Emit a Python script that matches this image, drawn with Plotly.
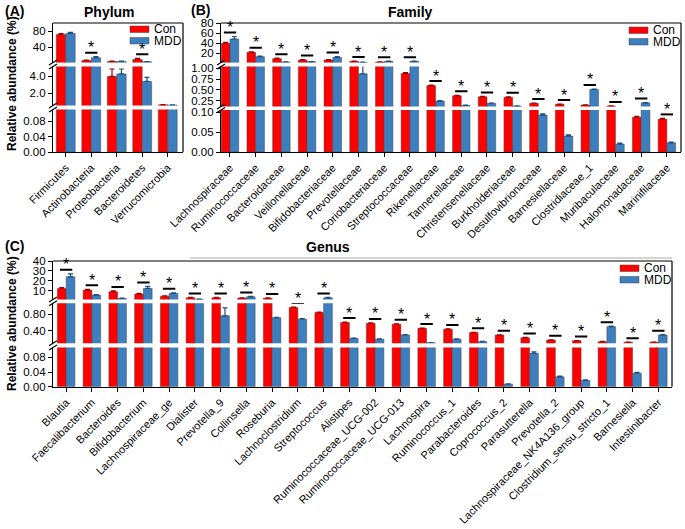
import plotly.graph_objects as go

W, H = 685, 529
RED = "#FF0000"
BLUE = "#3D7EBF"
ECON = "#A00000"
EMDD = "#1F4F80"
FONT = "Liberation Sans, Arial, sans-serif"

# ---------------- data ----------------
phylum_names = ["Firmicutes", "Actinobacteria", "Proteobacteria", "Bacteroidetes", "Verrucomicrobia"]
phylum_con = [71.5, 6.5, 4.0, 9.0, 0.58]
phylum_mdd = [74.0, 13.5, 4.3, 3.4, 0.56]
phylum_con_err = [2.0, 1.0, 0.9, 3.0, 0.02]
phylum_mdd_err = [2.5, 2.5, 0.6, 0.5, 0.02]
phylum_sig = [False, True, False, True, False]

family_names = ["Lachnospiraceae", "Ruminococcaceae", "Bacteroidaceae", "Veillonellaceae",
                "Bifidobacteriaceae", "Prevotellaceae", "Coriobacteriaceae", "Streptococcaceae",
                "Rikenellaceae", "Tannerellaceae", "Christensenellaceae", "Burkholderiaceae",
                "Desulfovibrionaceae", "Barnesiellaceae", "Clostridiaceae_1", "Muribaculaceae",
                "Halomonadaceae", "Marinifilaceae"]
family_con = [39.3, 21.3, 8.7, 6.0, 6.0, 3.3, 2.0, 0.88, 0.60, 0.364, 0.34, 0.33,
              0.19, 0.165, 0.15, 0.125, 0.087, 0.082]
family_mdd = [48.0, 12.7, 2.0, 2.7, 11.3, 0.87, 3.3, 3.3, 0.24, 0.14, 0.19, 0.125,
              0.0925, 0.04, 0.51, 0.02, 0.20, 0.023]
family_con_err = [2.0, 1.0, 1.0, 0.8, 0.8, 0.5, 0.3, 0.02, 0.01, 0.01, 0.008, 0.008,
                  0.005, 0.005, 0.005, 0.004, 0.002, 0.002]
family_mdd_err = [5.0, 1.0, 0.3, 0.3, 1.5, 0.9, 0.4, 0.4, 0.01, 0.005, 0.005, 0.004,
                  0.003, 0.003, 0.01, 0.002, 0.005, 0.002]
family_sig = [True] * 18

genus_names = ["Blautia", "Faecalibacterium", "Bacteroides", "Bifidobacterium",
               "Lachnospiraceae_ge", "Dialister", "Prevotella_9", "Collinsella", "Roseburia",
               "Lachnoclostridium", "Streptococcus", "Alistipes", "Ruminococcaceae_UCG-002",
               "Ruminococcaceae_UCG-013", "Lachnospira", "Ruminococcus_1", "Parabacteroides",
               "Coprococcus_2", "Parasutterella", "Prevotella_2",
               "Lachnospiraceae_NK4A136_group", "Clostridium_sensu_stricto_1", "Barnesiella",
               "Intestinibacter"]
genus_con = [12.4, 10.7, 9.0, 6.7, 4.6, 3.0, 3.0, 2.6, 2.5, 0.96, 0.84, 0.60, 0.58, 0.56,
             0.46, 0.44, 0.36, 0.30, 0.235, 0.18, 0.163, 0.14, 0.125, 0.125]
genus_mdd = [24.1, 5.7, 2.3, 12.4, 7.4, 1.4, 0.76, 3.9, 0.715, 0.68, 2.9, 0.22, 0.20, 0.30,
             0.115, 0.20, 0.14, 0.007, 0.091, 0.027, 0.017, 0.50, 0.037, 0.30]
genus_con_err = [0.8, 0.8, 0.8, 0.6, 0.4, 0.3, 0.3, 0.3, 0.3, 0.01, 0.01, 0.01, 0.008, 0.008,
                 0.006, 0.006, 0.005, 0.005, 0.005, 0.004, 0.004, 0.004, 0.003, 0.003]
genus_mdd_err = [3.0, 0.5, 0.3, 2.0, 0.6, 0.1, 0.19, 0.4, 0.01, 0.01, 0.4, 0.006, 0.005, 0.006,
                 0.004, 0.005, 0.004, 0.001, 0.004, 0.002, 0.002, 0.01, 0.002, 0.006]
genus_sig = [True] * 24

# axis tick labels of each broken-axis segment (bottom, middle, top)
phylum_ticks = [[0, 0.04, 0.08], [2, 4], [40, 80]]
phylum_ticktext = [["0.00", "0.04", "0.08"], ["2.0", "4.0"], ["40", "80"]]
family_ticks = [[0, 0.05, 0.10], [0.25, 0.50, 0.75, 1.00], [20, 40, 60, 80]]
family_ticktext = [["0.00", "0.05", "0.10"], ["0.25", "0.50", "0.75", "1.00"], ["20", "40", "60", "80"]]
genus_ticks = [[0, 0.04, 0.08], [0.40, 0.80], [10, 20, 30, 40]]
genus_ticktext = [["0.00", "0.04", "0.08"], ["0.40", "0.80"], ["10", "20", "30", "40"]]

# segment value ranges (bottom, middle, top)
phylum_ranges = [(0, 0.11), (0.5, 5.2), (1.5, 100)]
family_ranges = [(0, 0.105), (0.115, 1.04), (1, 80)]
genus_ranges = [(0, 0.107), (0.1, 1.06), (1.2, 40)]


def fy(p):
    return 1 - p / H


def fx(p):
    return p / W


panels = [
    dict(cats=phylum_names, con=phylum_con, mdd=phylum_mdd, cerr=phylum_con_err, merr=phylum_mdd_err,
         sig=phylum_sig, xpx=(53, 183), xr=(-0.5, 4.6), bw=0.37, ranges=phylum_ranges,
         ticks=phylum_ticks, ticktext=phylum_ticktext,
         seg_px=[(109.5, 152), (66.5, 105.5), (23, 62.5)],
         legend=(130, 26)),
    dict(cats=family_names, con=family_con, mdd=family_mdd, cerr=family_con_err, merr=family_mdd_err,
         sig=family_sig, xpx=(221, 681), xr=(-0.35, 17.55), bw=0.34, ranges=family_ranges,
         ticks=family_ticks, ticktext=family_ticktext,
         seg_px=[(110, 152), (66.5, 106.5), (23, 62.5)],
         legend=(629, 27)),
    dict(cats=genus_names, con=genus_con, mdd=genus_mdd, cerr=genus_con_err, merr=genus_mdd_err,
         sig=genus_sig, xpx=(53, 672), xr=(-0.51, 23.53), bw=0.34, ranges=genus_ranges,
         ticks=genus_ticks, ticktext=genus_ticktext,
         seg_px=[(347.5, 386.7), (303.3, 343.3), (261, 299.5)],
         legend=(620, 265)),
]

fig = go.Figure()
layout = {}
shapes = []
annotations = []

for k, p in enumerate(panels):
    xid = "x" if k == 0 else f"x{k+1}"
    xkey = "xaxis" if k == 0 else f"xaxis{k+1}"
    n = len(p["cats"])
    xs = list(range(n))
    bw = p["bw"]
    yids = []
    for j in range(3):
        m = 3 * k + j + 1
        yid = "y" if m == 1 else f"y{m}"
        ykey = "yaxis" if m == 1 else f"yaxis{m}"
        yids.append(yid)
        ptop, pbot = p["seg_px"][j][0], p["seg_px"][j][1]
        lo, hi = p["ranges"][j]
        layout[ykey] = dict(domain=[fy(pbot), fy(ptop)], range=[lo, hi], anchor=xid,
                            automargin=False,
                            tickmode="array", tickvals=p["ticks"][j], ticktext=p["ticktext"][j],
                            showline=True, linecolor="black", linewidth=1.2,
                            ticks="outside", ticklen=4, tickwidth=1.2, tickcolor="black",
                            showgrid=False, zeroline=False, fixedrange=True,
                            tickfont=dict(size=11.5, color="black", family=FONT))
        for vals, errs, col, ecol, off, nm in [
            (p["con"], p["cerr"], RED, ECON, -bw, "Con"),
            (p["mdd"], p["merr"], BLUE, EMDD, 0.0, "MDD"),
        ]:
            # a segment only shows the bars (or error bars) that reach into it
            seg_vals = [v if v + e >= lo else None for v, e in zip(vals, errs)]
            fig.add_trace(go.Bar(
                x=xs, y=seg_vals, width=bw, offset=off, name=nm,
                xaxis=xid, yaxis=yid,
                marker=dict(color=col, line=dict(color="#444444", width=0.5)),
                error_y=dict(type="data", symmetric=False, array=errs, arrayminus=[0] * n,
                             color=ecol, thickness=1.2, width=2.5),
                showlegend=False, hoverinfo="skip"))
    layout[xkey] = dict(domain=[fx(p["xpx"][0]), fx(p["xpx"][1])], range=list(p["xr"]),
                        anchor=yids[0], automargin=False,
                        tickmode="array", tickvals=xs, ticktext=p["cats"],
                        tickangle=-45, showline=True, linecolor="black", linewidth=1.2,
                        ticks="outside", ticklen=4, tickwidth=1.2, tickcolor="black",
                        showgrid=False, zeroline=False, fixedrange=True,
                        tickfont=dict(size=11, color="black", family=FONT))

    # significance bars
    for i in range(n):
        if not p["sig"][i]:
            continue
        top = max(p["con"][i] + p["cerr"][i], p["mdd"][i] + p["merr"][i])
        sel = None
        for j in range(3):
            lo, hi = p["ranges"][j]
            if lo <= top <= hi:
                sel = (j, top)
        if sel is None:
            for j in range(3):
                lo, hi = p["ranges"][j]
                if top < lo:
                    sel = (j, lo)
                    break
        j, ya = sel
        shapes.append(dict(type="line", xref=xid, yref=yids[j], x0=i - 0.24, x1=i + 0.24,
                           ysizemode="pixel", yanchor=ya, y0=4, y1=4,
                           line=dict(color="black", width=2)))
        annotations.append(dict(text="*", xref=xid, yref=yids[j], x=i, y=ya, yshift=9,
                                showarrow=False, font=dict(size=16, color="black", family=FONT)))

    # frame (top and right)
    x0p, x1p = p["xpx"]
    ytop = p["seg_px"][2][0]
    ybot = p["seg_px"][0][1]
    shapes.append(dict(type="line", xref="paper", yref="paper", x0=fx(x0p), x1=fx(x1p),
                       y0=fy(ytop), y1=fy(ytop), line=dict(color="black", width=1.2)))
    shapes.append(dict(type="line", xref="paper", yref="paper", x0=fx(x1p), x1=fx(x1p),
                       y0=fy(ytop), y1=fy(ybot), line=dict(color="black", width=1.2)))
    # break marks on the left axis
    for j in range(2):
        for yy in (p["seg_px"][j][0], p["seg_px"][j + 1][1]):
            shapes.append(dict(type="line", xref="paper", yref="paper",
                               x0=fx(x0p - 4), x1=fx(x0p + 4), y0=fy(yy + 2.5), y1=fy(yy - 2.5),
                               line=dict(color="black", width=1.2)))
    # legend
    lx, ly = p["legend"]
    for r, (col, nm) in enumerate([(RED, "Con"), (BLUE, "MDD")]):
        yy = ly + r * 11.5
        shapes.append(dict(type="rect", xref="paper", yref="paper",
                           x0=fx(lx), x1=fx(lx + 19), y0=fy(yy + 6.5), y1=fy(yy),
                           fillcolor=col, line=dict(color="#444444", width=0.5)))
        annotations.append(dict(text=nm, xref="paper", yref="paper", x=fx(lx + 22), y=fy(yy + 3.3),
                                xanchor="left", yanchor="middle", showarrow=False,
                                font=dict(size=12, color="black", family=FONT)))

# titles and labels
texts = [
    ("(A)", 3, 11, "left", 14), ("(B)", 189, 10, "left", 14), ("(C)", 3, 246, "left", 14),
    ("Phylum", 109, 12, "center", 14), ("Family", 410, 12, "center", 14),
    ("Genus", 328, 247, "center", 14),
]
for t, x, y, xa, s in texts:
    annotations.append(dict(text=f"<b>{t}</b>", xref="paper", yref="paper", x=fx(x), y=fy(y),
                            xanchor=xa, yanchor="middle", showarrow=False,
                            font=dict(size=s, color="black", family=FONT)))
for yc in (84, 324):
    annotations.append(dict(text="<b>Relative abundance (%)</b>", xref="paper", yref="paper",
                            x=fx(12), y=fy(yc), textangle=-90, xanchor="center", yanchor="middle",
                            showarrow=False, font=dict(size=12, color="black", family=FONT)))

shapes.append(dict(type="line", xref="paper", yref="paper", x0=fx(190), x1=fx(672),
                   y0=fy(258), y1=fy(258), line=dict(color="#AAAAAA", width=1)))

fig.update_layout(**layout)
fig.update_layout(template="none", width=W, height=H, margin=dict(l=0, r=0, t=0, b=0, pad=0),
                  paper_bgcolor="white", plot_bgcolor="white", barmode="overlay",
                  showlegend=False, shapes=shapes, annotations=annotations,
                  font=dict(family=FONT, color="black"))
fig.write_html("out.html", config={"displayModeBar": False},
               post_script="document.body.style.margin='0px';document.body.style.padding='0px';"
                           "document.body.style.overflow='hidden';")
